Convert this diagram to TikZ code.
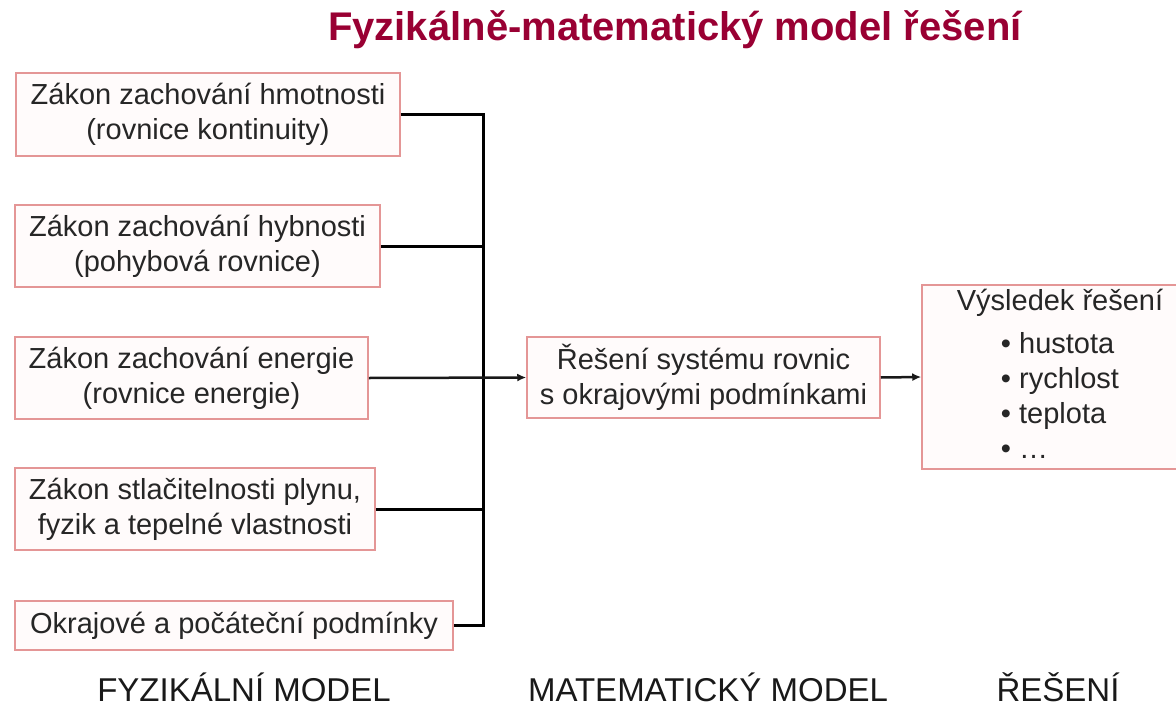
\documentclass[tikz,border=0pt]{standalone}
\usepackage{fontspec}
\setmainfont{Liberation Sans}
\usepackage{xcolor}
\usetikzlibrary{arrows.meta}
\definecolor{titlered}{RGB}{153,0,51}
\definecolor{boxline}{RGB}{228,150,150}
\definecolor{boxfill}{RGB}{255,251,251}

\begin{document}
\begin{tikzpicture}[x=1pt,y=-1pt,
  box/.style={draw=boxline, fill=boxfill, line width=1.5pt, align=center, inner sep=0pt,
    font=\fontsize{29}{35}\selectfont, text=black!85},
  conn/.style={line width=3pt, black},
  arr/.style={line width=2.5pt, black!90, -{Latex[length=9pt,width=8pt]}},
  lbl/.style={anchor=base, font=\fontsize{33}{40}\selectfont, text=black!90}]
\useasboundingbox (0,0) rectangle (1176,707);

\node[anchor=base, font=\fontsize{40}{48}\selectfont\bfseries, text=titlered] (title) at (675,40) {Fyzikálně-matematický model řešení};

\node[box, minimum width=384pt, minimum height=83pt] (m1) at (208,114.5) {Zákon zachování hmotnosti\\(rovnice kontinuity)};
\node[box, minimum width=365pt, minimum height=82pt] (m2) at (197.5,246) {Zákon zachování hybnosti\\(pohybová rovnice)};
\node[box, minimum width=353pt, minimum height=82pt] (m3) at (191.5,378) {Zákon zachování energie\\(rovnice energie)};
\node[box, minimum width=360pt, minimum height=82pt] (m4) at (195,509) {Zákon stlačitelnosti plynu,\\fyzik a tepelné vlastnosti};
\node[box, minimum width=438pt, minimum height=49pt] (m5) at (234,625.5) {Okrajové a počáteční podmínky};

\node[box, minimum width=353pt, minimum height=81pt] (sol) at (703.5,377.5) {Řešení systému rovnic\\s okrajovými podmínkami};
\node[box, minimum width=276pt, minimum height=184pt] (res) at (1060,377) {%
  \begin{tabular}{@{}c@{}}Výsledek řešení\\[8pt]
  \begin{tabular}{@{}l@{}}• hustota\\• rychlost\\• teplota\\• …\end{tabular}\end{tabular}};

\coordinate (bus) at (483,0);
\draw[conn] (m1.east) -- (m1.east -| bus) -- (m5.east -| bus) -- (m5.east);
\draw[conn] (m2.east) -- (m2.east -| bus);
\draw[conn] (m4.east) -- (m4.east -| bus);
\draw[arr] (m3.east) -- (sol.west);
\draw[arr] (sol.east) -- (res.west);

\node[lbl] (phys) at (244,701) {FYZIKÁLNÍ MODEL};
\node[lbl] (math) at (708,701) {MATEMATICKÝ MODEL};
\node[lbl] (sol label) at (1058,701) {ŘEŠENÍ};
\end{tikzpicture}
\end{document}
